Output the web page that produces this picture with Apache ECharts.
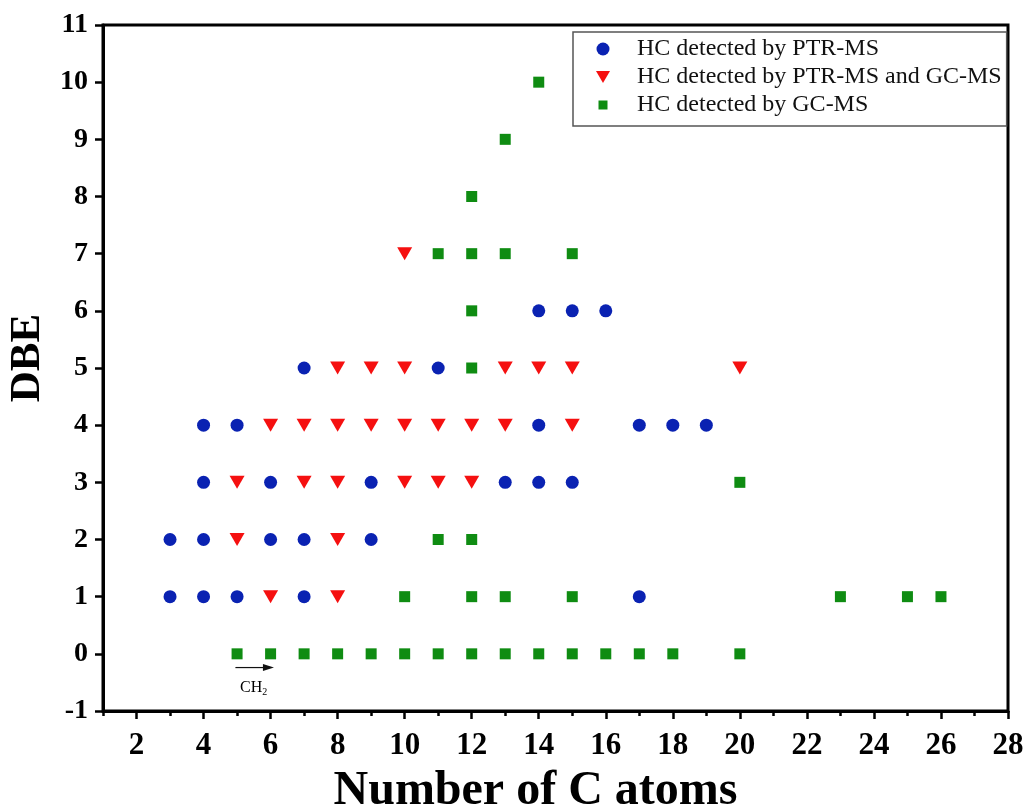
<!DOCTYPE html>
<html>
<head>
<meta charset="utf-8">
<title>DBE vs Number of C atoms</title>
<script src="https://cdn.jsdelivr.net/npm/echarts@6/dist/echarts.min.js"></script>
<style>
  html, body { margin: 0; padding: 0; background: #fff; }
  #chart { width: 1027px; height: 809px; }
</style>
</head>
<body>
<div id="chart"></div>
<script>
// [number of C atoms, DBE]
var ptrOnly = [
  [3, 1], [4, 1], [5, 1], [7, 1], [17, 1],
  [3, 2], [4, 2], [6, 2], [7, 2], [9, 2],
  [4, 3], [6, 3], [9, 3], [13, 3], [14, 3], [15, 3],
  [4, 4], [5, 4], [14, 4], [17, 4], [18, 4], [19, 4],
  [7, 5], [11, 5],
  [14, 6], [15, 6], [16, 6]
];
var ptrAndGc = [
  [6, 1], [8, 1],
  [5, 2], [8, 2],
  [5, 3], [7, 3], [8, 3], [10, 3], [11, 3], [12, 3],
  [6, 4], [7, 4], [8, 4], [9, 4], [10, 4], [11, 4], [12, 4], [13, 4], [15, 4],
  [8, 5], [9, 5], [10, 5], [13, 5], [14, 5], [15, 5], [20, 5],
  [10, 7]
];
var gcOnly = [
  [5, 0], [6, 0], [7, 0], [8, 0], [9, 0], [10, 0], [11, 0], [12, 0],
  [13, 0], [14, 0], [15, 0], [16, 0], [17, 0], [18, 0], [20, 0],
  [10, 1], [12, 1], [13, 1], [15, 1], [23, 1], [25, 1], [26, 1],
  [11, 2], [12, 2],
  [20, 3],
  [12, 5],
  [12, 6],
  [11, 7], [12, 7], [13, 7], [15, 7],
  [12, 8],
  [13, 9],
  [14, 10]
];
var seriesNames = [
  "HC detected by PTR-MS",
  "HC detected by PTR-MS and GC-MS",
  "HC detected by GC-MS"
];
var xMajorTicks = [2, 4, 6, 8, 10, 12, 14, 16, 18, 20, 22, 24, 26, 28];
var xMinorTicks = [1, 3, 5, 7, 9, 11, 13, 15, 17, 19, 21, 23, 25, 27];

var serif = '"Times New Roman", "Liberation Serif", serif';
var triDown = "path://M0,0 L10,0 L5,8.5 Z";
// smaller square for the legend (outer moveTo points pad the box)
var legendSquare = "path://M0,0 M14,13 M2.5,2 L11.5,2 L11.5,11 L2.5,11 Z";

var chart = echarts.init(document.getElementById("chart"));

var option = {
  backgroundColor: "#fff",
  animation: false,
  grid: {
    left: 103,
    right: 19,
    top: 25,
    bottom: 98,
    outerBoundsMode: "none",
    containLabel: false,
    show: true,
    borderColor: "#000",
    borderWidth: 3
  },
  legend: {
    orient: "vertical",
    left: 573,
    top: 32,
    padding: [3, 5, 7, 23],
    itemGap: 0,
    itemWidth: 14,
    itemHeight: 13,
    borderColor: "#555",
    borderWidth: 1.5,
    backgroundColor: "#fff",
    textStyle: {
      fontFamily: serif,
      fontSize: 24,
      lineHeight: 28,
      color: "#111",
      padding: [0, 0, 0, 22]
    },
    data: [
      { name: seriesNames[0], icon: "circle" },
      { name: seriesNames[1], icon: triDown },
      { name: seriesNames[2], icon: legendSquare }
    ]
  },
  xAxis: [
    {
      type: "value",
      min: 1,
      max: 28,
      name: "Number of C atoms",
      nameLocation: "middle",
      nameGap: 57,
      nameTextStyle: {
        fontFamily: serif,
        fontWeight: "bold",
        fontSize: 48,
        color: "#000",
        padding: [0, 40, 0, 0]
      },
      splitLine: { show: false },
      axisLine: { onZero: false, lineStyle: { color: "#000", width: 3 } },
      axisTick: {
        customValues: xMajorTicks,
        length: 8,
        lineStyle: { color: "#000", width: 2.5 }
      },
      axisLabel: {
        customValues: xMajorTicks,
        margin: 19,
        fontFamily: serif,
        fontWeight: "bold",
        fontSize: 31,
        color: "#000"
      }
    },
    {
      type: "value",
      min: 1,
      max: 28,
      position: "bottom",
      splitLine: { show: false },
      axisLine: { show: false, onZero: false },
      axisTick: {
        customValues: xMinorTicks,
        length: 5,
        lineStyle: { color: "#000", width: 2.5 }
      },
      axisLabel: { show: false }
    }
  ],
  yAxis: {
    type: "value",
    min: -1,
    max: 11,
    interval: 1,
    name: "DBE",
    nameLocation: "middle",
    nameGap: 49,
    nameTextStyle: {
      fontFamily: serif,
      fontWeight: "bold",
      fontSize: 43,
      color: "#000",
      padding: [0, 0, 0, 20]
    },
    splitLine: { show: false },
    axisLine: { onZero: false, lineStyle: { color: "#000", width: 3 } },
    axisTick: { length: 8, lineStyle: { color: "#000", width: 2.5 } },
    axisLabel: {
      margin: 15,
      fontFamily: serif,
      fontWeight: "bold",
      fontSize: 28,
      color: "#000"
    }
  },
  series: [
    {
      name: seriesNames[0],
      type: "scatter",
      symbol: "circle",
      symbolSize: 13,
      itemStyle: { color: "#0a22b2", opacity: 1 },
      data: ptrOnly
    },
    {
      name: seriesNames[1],
      type: "scatter",
      symbol: triDown,
      symbolSize: [15, 13],
      itemStyle: { color: "#f51010", opacity: 1 },
      data: ptrAndGc
    },
    {
      name: seriesNames[2],
      type: "scatter",
      symbol: "rect",
      symbolSize: 11,
      itemStyle: { color: "#0f8c12", opacity: 1 },
      data: gcOnly
    }
  ]
};

chart.setOption(option);

// CH2 homologue arrow under the first alkane squares
var p0 = chart.convertToPixel({ xAxisIndex: 0, yAxisIndex: 0 }, [4.95, -0.24]);
var p1 = chart.convertToPixel({ xAxisIndex: 0, yAxisIndex: 0 }, [6.1, -0.24]);
chart.setOption({
  graphic: [
    {
      type: "line",
      shape: { x1: p0[0], y1: p0[1], x2: p1[0] - 8, y2: p1[1] },
      style: { stroke: "#111", lineWidth: 1.2 }
    },
    {
      type: "polygon",
      shape: { points: [[p1[0], p1[1]], [p1[0] - 11, p1[1] - 3.5], [p1[0] - 11, p1[1] + 3.5]] },
      style: { fill: "#111" }
    },
    {
      type: "text",
      x: (p0[0] + p1[0]) / 2 - 1,
      y: p0[1] + 20,
      style: {
        text: "{a|CH}{b|2}",
        align: "center",
        verticalAlign: "middle",
        rich: {
          a: { fontFamily: serif, fontSize: 16, color: "#333" },
          b: { fontFamily: serif, fontSize: 10, color: "#333", padding: [10, 0, 0, 0] }
        }
      }
    }
  ]
});
</script>
</body>
</html>
